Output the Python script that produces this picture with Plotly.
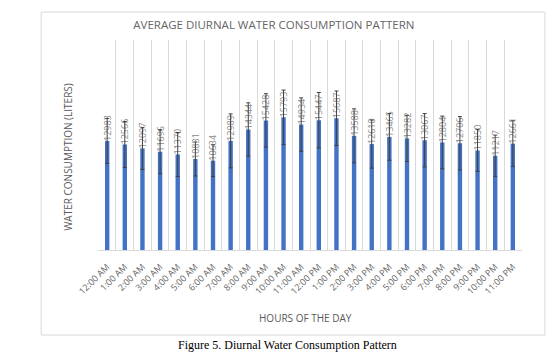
import plotly.graph_objects as go

hours = ["12:00 AM", "1:00 AM", "2:00 AM", "3:00 AM", "4:00 AM", "5:00 AM",
         "6:00 AM", "7:00 AM", "8:00 AM", "9:00 AM", "10:00 AM", "11:00 AM",
         "12:00 PM", "1:00 PM", "2:00 PM", "3:00 PM", "4:00 PM", "5:00 PM",
         "6:00 PM", "7:00 PM", "8:00 PM", "9:00 PM", "10:00 PM", "11:00 PM"]
consumption = [12983, 12566, 12097, 11696, 11370, 10831, 10634, 12989, 14344, 15428,
               15793, 14934, 15447, 15687, 13588, 12610, 13465, 13282, 13067, 12804,
               12706, 11850, 11217, 12661]
std_dev = [2680, 2740, 2500, 2620, 2620, 2020, 1900, 3210, 3175, 3175,
           3250, 3175, 3300, 3240, 3214, 2860, 2780, 2740, 3175, 3135,
           3170, 2480, 2460, 2710]

idx = list(range(len(hours)))
FONT = "Open Sans"
GRAY = "#595959"

fig = go.Figure()
fig.add_trace(go.Bar(
    x=idx, y=consumption,
    marker=dict(color="#4472C4", line=dict(width=0)),
    error_y=dict(type="data", array=std_dev, color="#404040", thickness=1, width=2),
    text=[str(v) for v in consumption],
    textposition="outside", textangle=-90, constraintext="none",
    cliponaxis=False,
    textfont=dict(family=FONT, size=9, color="#8c8c8c"),
    hoverinfo="x+y",
))

fig.update_layout(
    width=559, height=356,
    margin=dict(l=98, r=37, t=40, b=106),
    paper_bgcolor="white", plot_bgcolor="white",
    showlegend=False,
    bargap=0.75,
    title=dict(text="AVERAGE DIURNAL WATER CONSUMPTION PATTERN",
               x=0.49, xref="container", xanchor="center",
               y=1 - 25 / 356, yref="container", yanchor="middle",
               font=dict(family=FONT, size=11.5, color="#666666")),
    xaxis=dict(
        tickmode="array", tickvals=idx, ticktext=hours,
        tickangle=-45, tickfont=dict(family=FONT, size=9, color="#666666"),
        range=[-0.52, 23.52], showgrid=False, zeroline=False,
        showline=True, linecolor="#d9d9d9",
        ticks="outside", ticklen=7, tickcolor="rgba(0,0,0,0)",
        minor=dict(showgrid=True, gridcolor="#d9d9d9", gridwidth=1,
                   tick0=0.5, dtick=1, ticks=""),
    ),
    yaxis=dict(range=[0, 25000], showgrid=False, zeroline=False,
               showticklabels=False, showline=False, ticks=""),
    shapes=[dict(type="rect", xref="paper", yref="paper",
                 x0=-0.134, x1=1.054, y0=-0.405, y1=1.133,
                 line=dict(color="#d9d9d9", width=1), fillcolor="rgba(0,0,0,0)",
                 layer="below")],
    annotations=[
        dict(text="WATER CONSUMPTION (LITERS)", textangle=-90,
             xref="paper", yref="paper", x=-0.071, y=0.443,
             xanchor="center", yanchor="middle", showarrow=False,
             font=dict(family=FONT, size=10, color=GRAY)),
        dict(text="HOURS OF THE DAY",
             xref="paper", yref="paper", x=0.49, y=-0.324,
             xanchor="center", yanchor="middle", showarrow=False,
             font=dict(family=FONT, size=10, color=GRAY)),
        dict(text="Figure 5. Diurnal Water Consumption Pattern",
             xref="paper", yref="paper", x=0.448, y=-0.452,
             xanchor="center", yanchor="middle", showarrow=False,
             font=dict(family="Liberation Serif", size=12, color="black")),
    ],
)

fig.write_html("out.html", config={"displayModeBar": False},
               post_script="document.body.style.margin='0';document.body.style.overflow='hidden';")
